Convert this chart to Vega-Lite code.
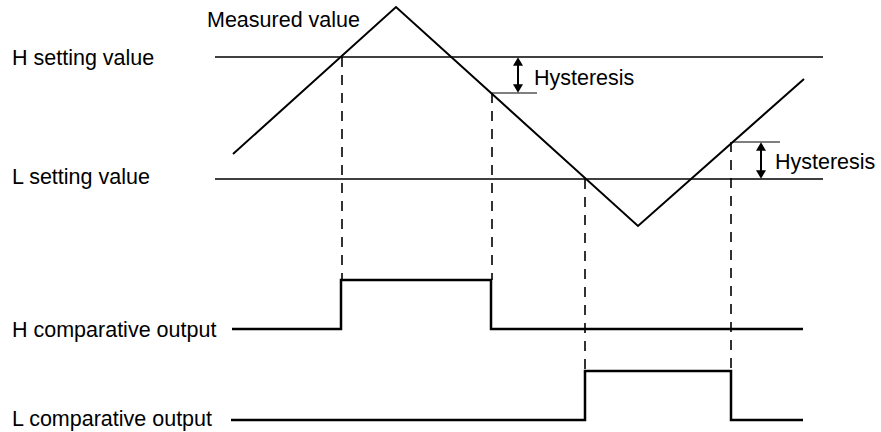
{
  "$schema": "https://vega.github.io/schema/vega-lite/v6.json",
  "width": 881,
  "height": 432,
  "autosize": {"type": "fit", "contains": "padding"},
  "padding": 0,
  "background": "white",
  "config": {"view": {"stroke": null}},
  "datasets": {
    "segs": [
      {"id": "measured", "kind": "measured", "i": 0, "t": 233, "v": 278},
      {"id": "measured", "kind": "measured", "i": 1, "t": 396, "v": 425},
      {"id": "measured", "kind": "measured", "i": 2, "t": 638, "v": 206},
      {"id": "measured", "kind": "measured", "i": 3, "t": 804, "v": 353},
      {"id": "Hset", "kind": "setting", "i": 0, "t": 215, "v": 375},
      {"id": "Hset", "kind": "setting", "i": 1, "t": 823, "v": 375},
      {"id": "Lset", "kind": "setting", "i": 0, "t": 215, "v": 253},
      {"id": "Lset", "kind": "setting", "i": 1, "t": 823, "v": 253},
      {"id": "h1", "kind": "hyst", "i": 0, "t": 492, "v": 339},
      {"id": "h1", "kind": "hyst", "i": 1, "t": 537, "v": 339},
      {"id": "h2", "kind": "hyst", "i": 0, "t": 732, "v": 290},
      {"id": "h2", "kind": "hyst", "i": 1, "t": 780, "v": 290},
      {"id": "a1", "kind": "arrow", "i": 0, "t": 518, "v": 372},
      {"id": "a1", "kind": "arrow", "i": 1, "t": 518, "v": 342},
      {"id": "a2", "kind": "arrow", "i": 0, "t": 761, "v": 287},
      {"id": "a2", "kind": "arrow", "i": 1, "t": 761, "v": 256},
      {"id": "d1", "kind": "dash", "i": 0, "t": 342, "v": 375},
      {"id": "d1", "kind": "dash", "i": 1, "t": 342, "v": 152},
      {"id": "d2", "kind": "dash", "i": 0, "t": 492, "v": 339},
      {"id": "d2", "kind": "dash", "i": 1, "t": 492, "v": 152},
      {"id": "d3", "kind": "dash", "i": 0, "t": 585, "v": 253},
      {"id": "d3", "kind": "dash", "i": 1, "t": 585, "v": 61},
      {"id": "d4", "kind": "dash", "i": 0, "t": 731, "v": 290},
      {"id": "d4", "kind": "dash", "i": 1, "t": 731, "v": 61},
      {"id": "Hout", "kind": "output", "i": 0, "t": 232, "v": 103},
      {"id": "Hout", "kind": "output", "i": 1, "t": 341, "v": 103},
      {"id": "Hout", "kind": "output", "i": 2, "t": 341, "v": 152},
      {"id": "Hout", "kind": "output", "i": 3, "t": 491, "v": 152},
      {"id": "Hout", "kind": "output", "i": 4, "t": 491, "v": 103},
      {"id": "Hout", "kind": "output", "i": 5, "t": 803, "v": 103},
      {"id": "Lout", "kind": "output", "i": 0, "t": 231, "v": 12},
      {"id": "Lout", "kind": "output", "i": 1, "t": 585, "v": 12},
      {"id": "Lout", "kind": "output", "i": 2, "t": 585, "v": 61},
      {"id": "Lout", "kind": "output", "i": 3, "t": 731, "v": 61},
      {"id": "Lout", "kind": "output", "i": 4, "t": 731, "v": 12},
      {"id": "Lout", "kind": "output", "i": 5, "t": 803, "v": 12}
    ],
    "heads": [
      {"t": 518, "v": 370.5, "shape": "triangle-up"},
      {"t": 518, "v": 343.5, "shape": "triangle-down"},
      {"t": 761, "v": 285.5, "shape": "triangle-up"},
      {"t": 761, "v": 257.5, "shape": "triangle-down"}
    ],
    "labels": [
      {"t": 12, "v": 367, "label": "H setting value"},
      {"t": 12, "v": 248, "label": "L setting value"},
      {"t": 12, "v": 95, "label": "H comparative output"},
      {"t": 12, "v": 6, "label": "L comparative output"},
      {"t": 207, "v": 405, "label": "Measured value"},
      {"t": 534, "v": 347, "label": "Hysteresis"},
      {"t": 775, "v": 263, "label": "Hysteresis"}
    ]
  },
  "encoding": {
    "x": {"field": "t", "type": "quantitative", "scale": {"domain": [0, 881], "nice": false, "zero": false}, "axis": null},
    "y": {"field": "v", "type": "quantitative", "scale": {"domain": [0, 432], "nice": false, "zero": false}, "axis": null}
  },
  "layer": [
    {
      "data": {"name": "segs"},
      "transform": [{"filter": "datum.kind === 'dash'"}],
      "mark": {"type": "line", "color": "black", "strokeWidth": 1.6, "strokeDash": [10, 8]},
      "encoding": {"detail": {"field": "id"}, "order": {"field": "i"}}
    },
    {
      "data": {"name": "segs"},
      "transform": [{"filter": "datum.kind === 'setting'"}],
      "mark": {"type": "line", "color": "black", "strokeWidth": 1.5},
      "encoding": {"detail": {"field": "id"}, "order": {"field": "i"}}
    },
    {
      "data": {"name": "segs"},
      "transform": [{"filter": "datum.kind === 'hyst'"}],
      "mark": {"type": "line", "color": "black", "strokeWidth": 1.2},
      "encoding": {"detail": {"field": "id"}, "order": {"field": "i"}}
    },
    {
      "data": {"name": "segs"},
      "transform": [{"filter": "datum.kind === 'arrow'"}],
      "mark": {"type": "line", "color": "black", "strokeWidth": 2},
      "encoding": {"detail": {"field": "id"}, "order": {"field": "i"}}
    },
    {
      "data": {"name": "segs"},
      "transform": [{"filter": "datum.kind === 'measured'"}],
      "mark": {"type": "line", "color": "black", "strokeWidth": 2},
      "encoding": {"detail": {"field": "id"}, "order": {"field": "i"}}
    },
    {
      "data": {"name": "segs"},
      "transform": [{"filter": "datum.kind === 'output'"}],
      "mark": {"type": "line", "color": "black", "strokeWidth": 2.5, "strokeJoin": "miter"},
      "encoding": {"detail": {"field": "id"}, "order": {"field": "i"}}
    },
    {
      "data": {"name": "heads"},
      "mark": {"type": "point", "filled": true, "color": "black", "size": 100, "opacity": 1},
      "encoding": {"shape": {"field": "shape", "type": "nominal", "scale": null}}
    },
    {
      "data": {"name": "labels"},
      "mark": {"type": "text", "align": "left", "baseline": "alphabetic", "font": "Liberation Sans", "fontSize": 21.5, "color": "black"},
      "encoding": {"text": {"field": "label"}}
    }
  ]
}
